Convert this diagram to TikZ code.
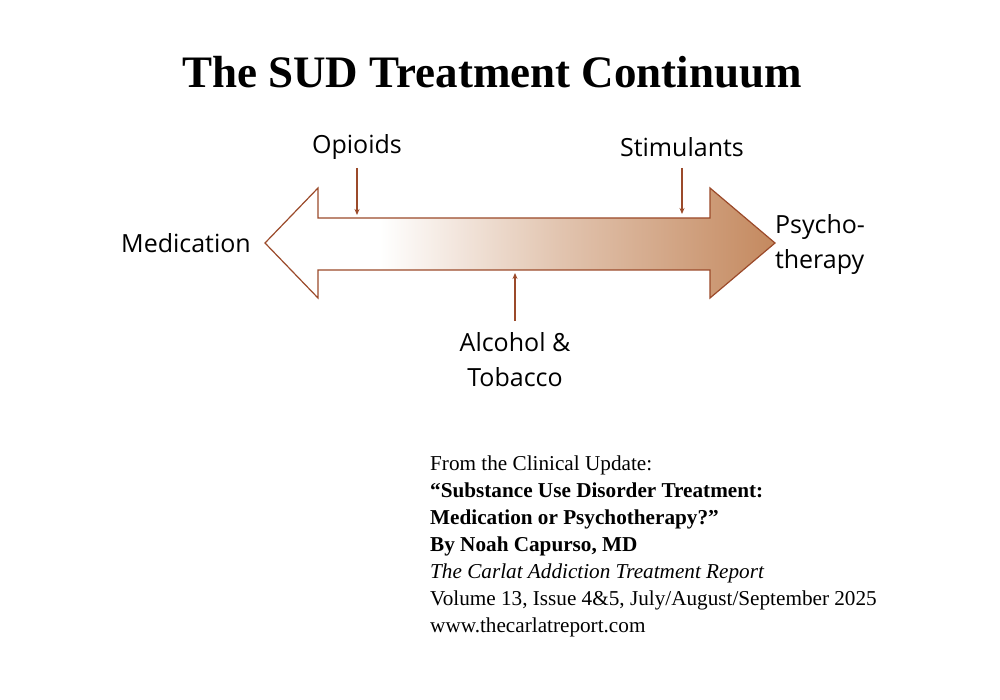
\documentclass[tikz,border=0pt]{standalone}
\usetikzlibrary{arrows.meta}
\usepackage{fontspec}
\setmainfont{Liberation Serif}
\newfontfamily\lab{Open Sans}
\definecolor{edge}{HTML}{9B4A2A}
\definecolor{tan}{HTML}{C4895F}
\begin{document}
\begin{tikzpicture}[x=1pt,y=-1pt,
  lbl/.style={font=\lab\fontsize{25}{35}\selectfont, text=black},
  tick/.style={draw=edge, line width=1.2pt, -{Stealth[length=6pt,width=5pt]}},
  ref/.style={anchor=base west, font=\fontsize{21.2}{24}\selectfont, inner sep=0pt}]
\useasboundingbox (0,0) rectangle (1000,700);
\node (title) at (492,72) {\fontsize{45}{52}\selectfont\bfseries The SUD Treatment Continuum};
\begin{scope}
\clip (265,243) -- (318,188) -- (318,218) -- (710,218) -- (710,188) -- (775,243)
  -- (710,298) -- (710,270) -- (318,270) -- (318,298) -- cycle;
\fill[white] (265,188) rectangle (380,298);
\shade[left color=white, right color=tan!50] (379.5,188) rectangle (560.5,298);
\shade[left color=tan!50, right color=tan] (560,188) rectangle (775,298);
\end{scope}
\draw[edge, line width=1.2pt, line join=miter]
  (265,243) -- (318,188) -- (318,218) -- (710,218) -- (710,188) -- (775,243)
  -- (710,298) -- (710,270) -- (318,270) -- (318,298) -- cycle;
\node[lbl] (op) at (357,147) {Opioids};
\node[lbl] (st) at (682,147) {Stimulants};
\node[lbl] (med) at (186,243) {Medication};
\node[lbl, align=left] (psy) at (820,245) {Psycho-\\therapy};
\node[lbl, align=center] (alc) at (515,360) {Alcohol \&\\Tobacco};
\coordinate (opt) at (357,215);
\coordinate (stt) at (682,214);
\coordinate (alt) at (515,273);
\coordinate (opf) at (357,168);
\coordinate (stf) at (682,168);
\coordinate (alf) at (515,321);
\draw[tick] (opf) -- (opt);
\draw[tick] (stf) -- (stt);
\draw[tick] (alf) -- (alt);
\node[ref] (r1) at (430,470) {From the Clinical Update:};
\node[ref] (r2) at (430,497) {\bfseries “Substance Use Disorder Treatment:};
\node[ref] (r3) at (430,524) {\bfseries Medication or Psychotherapy?”};
\node[ref] (r4) at (430,551) {\bfseries By Noah Capurso, MD};
\node[ref] (r5) at (430,578) {\itshape The Carlat Addiction Treatment Report};
\node[ref] (r6) at (430,605) {Volume 13, Issue 4\&5, July/August/September 2025};
\node[ref] (r7) at (430,632) {www.thecarlatreport.com};
\end{tikzpicture}
\end{document}
